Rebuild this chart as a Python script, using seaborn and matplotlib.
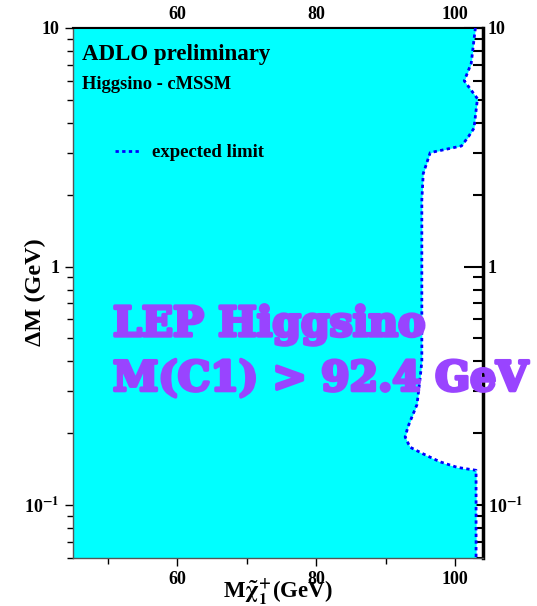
import matplotlib
matplotlib.use("Agg")
import matplotlib.pyplot as plt
import matplotlib.ticker as mticker
import matplotlib.patheffects as pe
import seaborn as sns
import pandas as pd

# ---- data ----
delta_m = [10.0, 7.1, 6.0, 5.05, 3.8, 3.5, 3.2, 3.0, 2.45, 1.9, 1.0, 0.40,
           0.33, 0.264, 0.213, 0.193, 0.175, 0.164, 0.152, 0.144, 0.140, 0.06]
mass_limit = [102.9, 102.3, 101.3, 103.2, 102.7, 101.9, 100.9, 96.4, 95.4, 95.2,
              95.2, 95.2, 94.9, 94.5, 93.2, 92.8, 93.5, 95.4, 97.8, 100.3, 103.0, 103.0]
x_ticks = [60, 80, 100]
y_ticks = [0.1, 1, 10]
y_ticklabels = [r"10$^{\mathbf{-1}}$", "1", "10"]

df = pd.DataFrame({"dm": delta_m, "mass": mass_limit})

sns.set_theme(style="white")
plt.rcParams["font.family"] = ["Liberation Serif", "DejaVu Serif"]
plt.rcParams["font.weight"] = "bold"
plt.rcParams["mathtext.fontset"] = "stix"
plt.rcParams["mathtext.default"] = "bf"
for k in ["text.color", "axes.labelcolor", "xtick.color", "ytick.color"]:
    plt.rcParams[k] = "black"

fig = plt.figure(figsize=(5.37, 6.06), dpi=100)
ax = fig.add_axes([0.1355, 0.079, 0.764, 0.875])

xmin, xmax = 45, 104
ymin, ymax = 0.06, 10

ax.fill_betweenx(df["dm"], xmin, df["mass"], color="#00ffff", lw=0, zorder=1)
sns.lineplot(data=df, x="mass", y="dm", sort=False, estimator=None, ax=ax,
             color="#0000ff", lw=2, linestyle=(0, (1.2, 1.2)), zorder=3,
             label="expected limit")

ax.set_xlim(xmin, xmax)
ax.set_yscale("log")
ax.set_ylim(ymin, ymax)

# main (left/bottom) ticks outward
ax.set_xticks(x_ticks)
ax.xaxis.set_minor_locator(mticker.MultipleLocator(10))
ax.set_yticks(y_ticks)
ax.set_yticklabels(y_ticklabels)
ax.yaxis.set_minor_locator(mticker.LogLocator(base=10, subs=range(2, 10)))
ax.yaxis.set_minor_formatter(mticker.NullFormatter())
ax.tick_params(which="both", direction="out", top=False, right=False,
               left=True, bottom=True, colors="black", labelsize=13, width=1)
ax.tick_params(which="major", length=6)
ax.tick_params(which="minor", length=4)
for lab in ax.get_xticklabels() + ax.get_yticklabels():
    lab.set_fontweight("bold")

# secondary axes (top/right) ticks inward
secx = ax.secondary_xaxis("top")
secx.set_xticks(x_ticks)
secx.xaxis.set_minor_locator(mticker.MultipleLocator(10))
secx.tick_params(which="both", direction="in", labelsize=13, colors="black", width=1.5)
secx.tick_params(which="major", length=9)
secx.tick_params(which="minor", length=5)
for lab in secx.get_xticklabels():
    lab.set_fontweight("bold")

secy = ax.secondary_yaxis("right")
secy.set_yticks(y_ticks)
secy.set_yticklabels(y_ticklabels)
secy.yaxis.set_minor_locator(mticker.LogLocator(base=10, subs=range(2, 10)))
secy.yaxis.set_minor_formatter(mticker.NullFormatter())
secy.tick_params(which="both", direction="in", labelsize=13, colors="black", width=1.5)
secy.tick_params(which="major", length=14)
secy.tick_params(which="minor", length=7)
for lab in secy.get_yticklabels():
    lab.set_fontweight("bold")

for s in ["left", "bottom"]:
    ax.spines[s].set_color("#555555")
    ax.spines[s].set_linewidth(1)
ax.spines["top"].set_color("black")
ax.spines["top"].set_linewidth(1.5)
ax.spines["right"].set_visible(False)
secy.spines["right"].set_linewidth(2.5)
secy.spines["right"].set_color("black")
secx.spines["top"].set_linewidth(1.5)
secx.spines["top"].set_color("black")

ax.set_xlabel(r"M$\tilde{\chi}_{1}^{+}$(GeV)", fontsize=16.5, fontweight="bold")
ax.xaxis.set_label_coords(0.5, -0.036)
ax.set_ylabel("ΔM (GeV)", fontsize=17.5, fontweight="bold")
ax.yaxis.set_label_coords(-0.066, 0.502)

ax.text(0.023, 0.94, "ADLO preliminary", transform=ax.transAxes,
        fontsize=16.5, fontweight="bold", va="baseline", ha="left", zorder=5)
ax.text(0.023, 0.885, "Higgsino - cMSSM", transform=ax.transAxes,
        fontsize=13.3, fontweight="bold", va="baseline", ha="left", zorder=5)

leg = ax.legend(loc="upper left", bbox_to_anchor=(0.085, 0.795), frameon=False,
                handlelength=1.4, handletextpad=0.55, prop={"size": 13.5, "weight": "bold"},
                borderaxespad=0)

purple = "#9944ff"
stroke = [pe.withStroke(linewidth=2.5, foreground=purple)]
ax.text(0.098, 0.419, "LEP Higgsino", transform=ax.transAxes, color=purple,
        fontsize=29.5, fontweight="bold", family="DejaVu Serif", va="baseline",
        ha="left", zorder=6, path_effects=stroke)
ax.text(0.098, 0.316, "M(C1) > 92.4 GeV", transform=ax.transAxes, color=purple,
        fontsize=29.5, fontweight="bold", family="DejaVu Serif", va="baseline",
        ha="left", zorder=6, clip_on=False, path_effects=stroke)

fig.savefig("out.png", dpi=100)
